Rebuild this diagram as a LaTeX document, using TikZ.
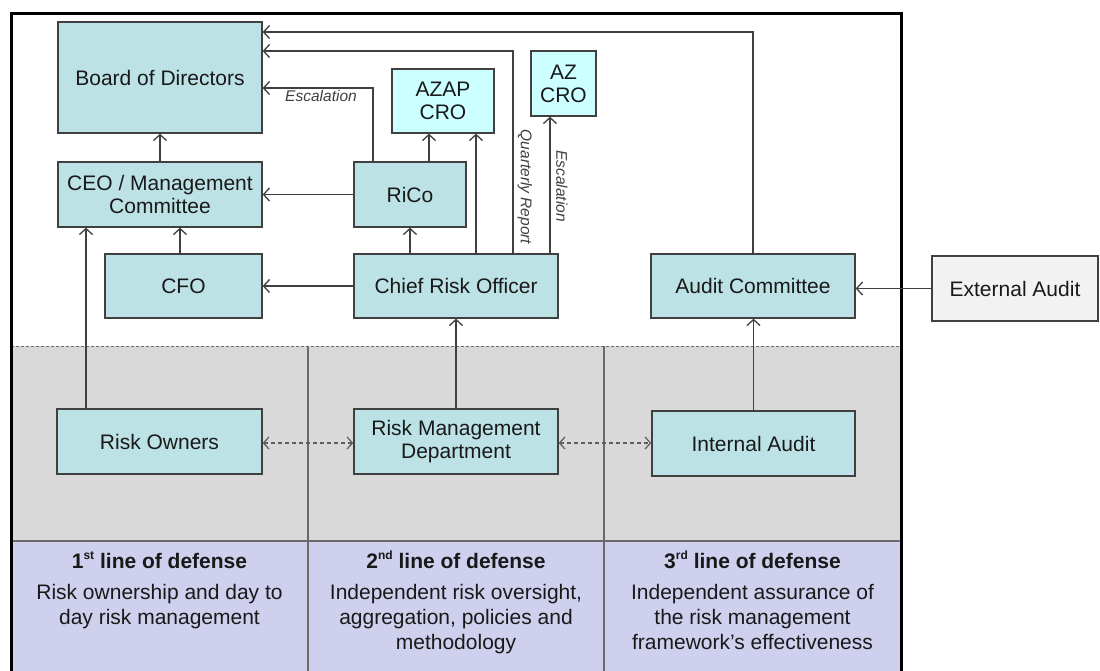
\documentclass[tikz,border=0pt]{standalone}
\usepackage{fontspec}
\setmainfont{Liberation Sans}
\usetikzlibrary{arrows.meta,calc}
\definecolor{boxfill}{HTML}{BCE2E5}
\definecolor{azfill}{HTML}{CCFFFF}
\definecolor{extfill}{HTML}{F2F2F2}
\definecolor{grayband}{HTML}{D9D9D9}
\definecolor{purpleband}{HTML}{CFCFEE}
\definecolor{edge}{HTML}{404040}
\definecolor{divider}{HTML}{6A6A6A}
\begin{document}
\begin{tikzpicture}[x=1pt,y=-1pt,
  box/.style={draw=edge, line width=1.3pt, fill=boxfill, inner sep=0pt, align=center,
              font=\fontsize{21}{23}\selectfont, text=black!90},
  azbox/.style={box, fill=azfill},
  extbox/.style={box, fill=extfill},
  arr/.style={draw=edge, line width=1.3pt, -{Straight Barb[length=6pt,width=13pt]}},
  dasharr/.style={draw=edge!85, line width=1.2pt, dash pattern=on 4pt off 3pt,
                  {Straight Barb[length=5.5pt,width=12pt]}-{Straight Barb[length=5.5pt,width=12pt]}},
  lab/.style={font=\fontsize{15.5}{17}\selectfont\itshape, text=edge, inner sep=0pt},
  ttl/.style={font=\fontsize{21}{25}\selectfont\bfseries, text=black!90, inner sep=0pt, anchor=base},
  desc/.style={font=\fontsize{21}{25}\selectfont, text=black!90, inner sep=0pt, anchor=north, align=center}
]
\newcommand{\supx}[1]{\raisebox{0.45em}{\fontsize{12}{12}\selectfont #1}}
\useasboundingbox (0,0) rectangle (1100,670);
% bands
\fill[white] (11,13) rectangle (901,346);
\fill[grayband] (11,346) rectangle (901,541);
\fill[purpleband] (11,541) rectangle (901,672);
\draw[divider, line width=1pt, dash pattern=on 3pt off 2pt] (11,346) -- (901,346);
\draw[divider, line width=2pt] (11,541) -- (901,541);
\draw[divider, line width=1.3pt] (308,346) -- (308,672);
\draw[divider, line width=1.3pt] (604,346) -- (604,672);
% frame
\draw[black, line width=3pt, line join=miter] (11,672) -- (11,13) -- (901,13) -- (901,672);

% nodes
\node[box, minimum width=204pt, minimum height=111pt] (board) at (160,77.5) {Board of Directors};
\node[box, minimum width=204pt, minimum height=65pt] (ceo) at (160,194.5) {CEO / Management\\Committee};
\node[box, minimum width=157pt, minimum height=64pt] (cfo) at (183.5,286) {CFO};
\node[box, minimum width=112pt, minimum height=65pt] (rico) at (410,194.5) {RiCo};
\node[azbox, minimum width=102pt, minimum height=64pt] (azap) at (443,101) {AZAP\\CRO};
\node[azbox, minimum width=65pt, minimum height=65pt] (azcro) at (563.5,83.5) {AZ\\CRO};
\node[box, minimum width=204pt, minimum height=64pt] (cro) at (456,286) {Chief Risk Officer};
\node[box, minimum width=204pt, minimum height=64pt] (audit) at (753,286) {Audit Committee};
\node[extbox, minimum width=166pt, minimum height=65pt] (ext) at (1015,288.5) {External Audit};
\node[box, minimum width=205pt, minimum height=65pt] (owners) at (159.5,441.5) {Risk Owners};
\node[box, minimum width=204pt, minimum height=65pt] (rmd) at (456,441.5) {Risk Management\\Department};
\node[box, minimum width=203pt, minimum height=65pt] (ia) at (753.5,443.5) {Internal Audit};

% connector labels
\node[lab] (esc1) at (321,96) {Escalation};
\node[lab, rotate=-90] (qrep) at (525,187) {Quarterly Report};
\node[lab, rotate=-90] (esc2) at (562,186) {Escalation};

% connectors
\draw[arr] (ceo.north) -- (board.south);
\draw[arr] ([xshift=-3.5pt]cfo.north) -- ([xshift=-3.5pt]cfo.north |- ceo.south);
\draw[arr] (rico.west) -- (ceo.east);
\draw[arr] (cro.west) -- (cfo.east);
\draw[arr] (cro.north -| rico.south) -- (rico.south);
\draw[arr] ([xshift=19pt]rico.north) -- ([xshift=19pt]rico.north |- azap.south);
\draw[arr] ([xshift=20pt]cro.north) -- ([xshift=20pt]cro.north |- azap.south);
\draw[arr] ([xshift=57pt]cro.north) |- ([yshift=26.5pt]board.east);
\draw[arr] ([xshift=94pt]cro.north) -- ([xshift=94pt]cro.north |- azcro.south);
\draw[arr] ([xshift=-37pt]rico.north) |- ([yshift=-10.5pt]board.east);
\draw[arr] (audit.north) |- ([yshift=45.5pt]board.east);
\draw[arr] (ext.west) -- (ext.west -| audit.east);
\draw[arr] (ia.north) -- (ia.north |- audit.south);
\draw[arr] (rmd.north) -- (cro.south);
\draw[arr] ([xshift=-73.5pt]owners.north) -- ([xshift=-73.5pt]owners.north |- ceo.south);
\draw[dasharr] ([yshift=-1.5pt]owners.east) -- ([yshift=-1.5pt]owners.east -| rmd.west);
\draw[dasharr] ([yshift=-1.5pt]rmd.east) -- ([yshift=-1.5pt]rmd.east -| ia.west);

% bottom captions
\node[ttl] (t1) at (159.5,568.5) {1\supx{st} line of defense};
\node[ttl] (t2) at (456,568.5) {2\supx{nd} line of defense};
\node[ttl] (t3) at (752.5,568.5) {3\supx{rd} line of defense};
\node[desc] (d1) at (159.5,584.5) {Risk ownership and day to\\day risk management};
\node[desc] (d2) at (456,584.5) {Independent risk oversight,\\aggregation, policies and\\methodology};
\node[desc] (d3) at (752.5,584.5) {Independent assurance of\\the risk management\\framework’s effectiveness};
\end{tikzpicture}
\end{document}
